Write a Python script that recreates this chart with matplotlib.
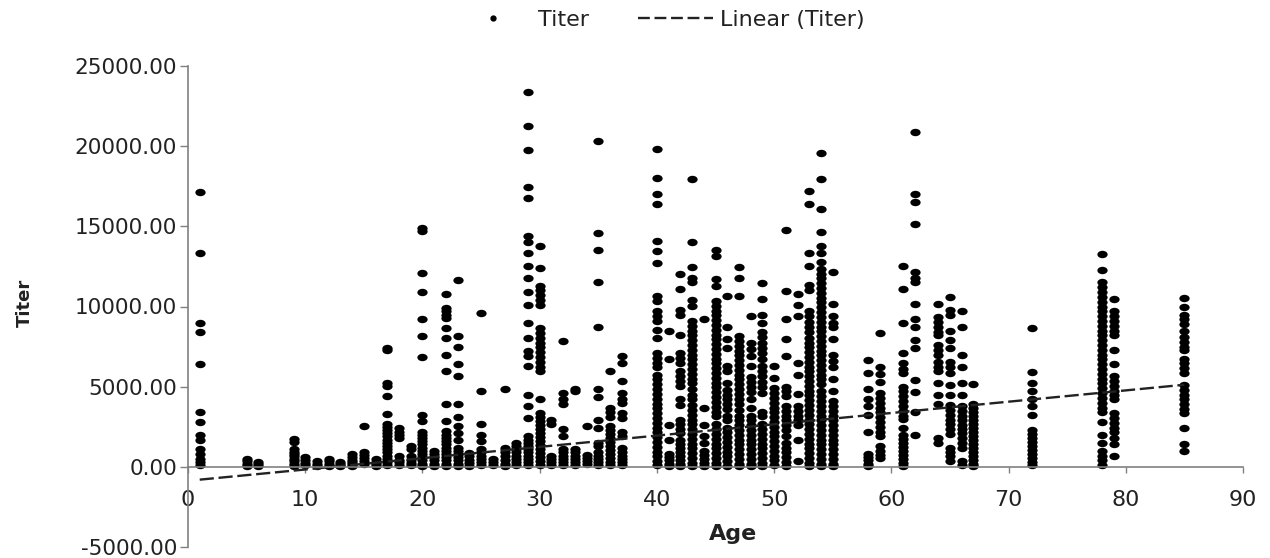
import numpy as np
import matplotlib
matplotlib.use('Agg')
import matplotlib.pyplot as plt
from matplotlib.path import Path
from matplotlib.transforms import Affine2D
from matplotlib.lines import Line2D

# values, one list per age
ages = [1, 5, 6, 9, 10, 11, 12, 13, 14, 15, 16, 17, 18, 19, 20, 21, 22, 23, 24, 25,
        26, 27, 28, 29, 30, 31, 32, 33, 34, 35, 36, 37, 40, 41, 42, 43, 44, 45, 46, 47,
        48, 49, 50, 51, 52, 53, 54, 55, 58, 59, 61, 62, 64, 65, 66, 67, 72, 78, 79, 85]

t01 = [17170, 13340, 9000, 8400, 6400, 3450, 2800, 2000, 1650, 1100, 800, 500, 300, 100]
t05 = [500, 350, 200, 50]
t06 = [300, 150, 50]
t09 = [1750, 1550, 1100, 950, 800, 650, 500, 350, 200, 50]
t10 = [600, 400, 250, 100]
t11 = [350, 200, 50]
t12 = [500, 350, 200, 50]
t13 = [300, 150, 50]
t14 = [800, 600, 450, 300, 150, 50]
t15 = [2530, 950, 750, 550, 350, 150]
t16 = [500, 300, 150, 50]
t17 = [7400, 7300, 5200, 5050, 4400, 3300, 2700, 2500, 2300, 2100, 1900, 1700, 1500, 1300, 1100, 900, 700, 500, 300, 100]
t18 = [2400, 2200, 2000, 1800, 650, 450, 300, 100]
t19 = [1300, 1100, 650, 450, 250, 100]
t20 = [14900, 14700, 12100, 10900, 9200, 8150, 6850, 3250, 2850, 2200, 2000, 1800, 1600, 1400, 1200, 1000, 800, 600, 400, 200, 50]
t21 = [1000, 800, 600, 400, 200, 50]
t22 = [10800, 9900, 9700, 9500, 9300, 8650, 8050, 7000, 5950, 3950, 2850, 2250, 2000, 1800, 1600, 1400, 1200, 1000, 800, 600, 400, 200, 50]
t23 = [11650, 8150, 7500, 6400, 5650, 3950, 3100, 2550, 2100, 1700, 1200, 1000, 800, 600, 400, 200, 50]
t24 = [850, 650, 450, 250, 50]
t25 = [9600, 4700, 2700, 2000, 1600, 1100, 900, 700, 500, 300, 100]
t26 = [500, 300, 100]
t27 = [4850, 1200, 950, 700, 450, 200, 50]
t28 = [1500, 1300, 1100, 900, 700, 500, 300, 100]
t29 = [23400, 21250, 19750, 17450, 16750, 14400, 14000, 13350, 12550, 11750, 10900, 10100, 9000, 8050, 7200, 6900, 6300, 4450, 3800, 3050,
       1900, 1700, 1500, 1300, 1100, 900, 700, 500, 300, 100]
t30 = [13750, 12400, 11250, 11000, 10700, 10400, 10100, 8650, 8350, 8050, 7750, 7450, 7150, 6850, 6550, 6250, 5950, 4250,
       3350, 3100, 2850, 2600, 2350, 2100, 1850, 1600, 1350, 1100, 850, 600, 350, 100]
t31 = [2950, 2650, 700, 500, 300, 100]
t32 = [7850, 4600, 4250, 3950, 2350, 1950, 1100, 900, 700, 500, 300, 100]
t33 = [4850, 4700, 1100, 900, 700, 500, 300, 100]
t34 = [2550, 750, 550, 350, 150]
t35 = [20300, 14600, 13500, 11500, 8750, 4850, 4350, 2950, 2400, 1500, 1300, 900, 700, 500, 300, 100]
t36 = [5950, 3700, 3400, 3100, 2550, 2300, 2050, 1800, 1550, 1300, 1050, 800, 550, 300, 100]
t37 = [6900, 6500, 5350, 4600, 4250, 4000, 3350, 3050, 2200, 1900, 1200, 900, 700, 500, 300, 100]
t40 = [19800, 18000, 17000, 16400, 14100, 13450, 12700, 10650, 10350, 9700, 9400, 9100, 8550, 8050, 7100, 6800, 6500, 6200,
       5750, 5450, 5150, 4850, 4550, 4250, 3950, 3650, 3350, 3050, 2750, 2450, 2150, 1850, 1550, 1250, 950, 650, 350, 100]
t41 = [8500, 6750, 2600, 1650, 800, 600, 400, 200, 50]
t42 = [12000, 11100, 9800, 9500, 8250, 7100, 6800, 6500, 5950, 5650, 5350, 5050, 4200, 3850, 2950, 2650, 2350, 2100,
       1700, 1450, 1200, 950, 700, 450, 200, 50]
t43 = [17950, 14000, 12450, 11800, 11500, 10400, 10050, 9100, 8800, 8500, 8200, 7900, 7600, 7300, 7000, 6700, 6400, 6100, 5800, 5500, 5200,
       4850, 4500, 4200, 3850, 3550, 3250, 2950, 2650, 2350, 2050, 1750, 1450, 1150, 850, 550, 250, 50]
t44 = [9250, 3700, 2600, 1900, 1500, 1000, 750, 500, 250, 50]
t45 = [13550, 13150, 11700, 11300, 10350, 10050, 9750, 9450, 9150, 8850, 8550, 8250, 7950, 7650, 7350, 7050, 6750, 6450, 6150, 5850, 5550,
       5250, 4950, 4650, 4350, 4050, 3750, 3450, 3150, 2650, 2350, 2050, 1750, 1450, 1150, 850, 550, 250, 50]
t46 = [10650, 8700, 8000, 7400, 6300, 5950, 5250, 4800, 4500, 4200, 3900, 3600, 3200, 2900, 2450, 2150, 1850, 1550, 1250, 950, 650, 350, 50]
t47 = [12450, 11750, 10650, 8150, 7850, 7550, 7250, 6950, 6650, 6350, 6050, 5750, 5450, 5150, 4850, 4550, 4250, 3950, 3550,
       3200, 2900, 2600, 2300, 2000, 1700, 1400, 1100, 800, 500, 200, 50]
t48 = [9400, 7750, 7350, 6900, 6300, 5600, 5300, 5000, 4650, 4200, 3700, 3200, 2900, 2600, 2300, 2000, 1700, 1400, 1100, 800, 500, 200, 50]
t49 = [11450, 10450, 9500, 9000, 8400, 8100, 7750, 7400, 7100, 6750, 6300, 6000, 5650, 5300, 4950, 4600, 3400, 3200, 2650, 2350, 2050, 1750, 1450, 1150, 850, 550, 250, 50]
t50 = [6300, 5550, 4900, 4600, 4300, 4000, 3700, 3400, 3100, 2800, 2500, 2200, 1900, 1600, 1300, 1000, 700, 400, 100]
t51 = [14750, 10950, 9250, 8000, 6900, 5000, 4700, 4400, 3800, 3500, 3200, 2900, 2600, 2300, 1950, 1500, 1200, 900, 600, 300, 50]
t52 = [10750, 10100, 9400, 6500, 5700, 4550, 3800, 3500, 3200, 2900, 2600, 1650, 350]
t53 = [17200, 16400, 13350, 12500, 11350, 11000, 9700, 9400, 9050, 8750, 8400, 8050, 7750, 7450, 7150, 6850, 6550, 6250, 5950, 5650, 5350,
       5050, 4750, 4450, 4150, 3850, 3550, 3250, 2950, 2650, 2350, 2050, 1750, 1450, 1150, 850, 550, 250, 50]
t54 = [19550, 17950, 16100, 14650, 13750, 13350, 12800, 12350, 12050, 11750, 11450, 11150, 10850, 10550, 10250, 9950, 9650, 9350, 9050, 8750, 8450,
       8150, 7850, 7550, 7250, 6950, 6650, 6350, 6050, 5750, 5450, 5150, 4700, 4400, 4100, 3800, 3500, 3200, 2900, 2600, 2300, 2000, 1700, 1400, 1100, 800, 500, 200, 50]
t55 = [12150, 10150, 9400, 9000, 8750, 8000, 7000, 6600, 6200, 5500, 4750, 4100, 3800, 3500, 3200, 2900, 2600, 2300, 2000, 1700, 1400, 1100, 800, 500, 200, 50]
t58 = [6650, 5850, 4850, 4200, 3800, 3250, 2150, 800, 600, 400, 200, 50]
t59 = [8350, 6200, 5800, 5300, 4600, 4300, 4000, 3700, 3400, 3100, 2800, 2500, 2200, 1950, 1300, 1000, 750, 550]
t61 = [12500, 11100, 9000, 7100, 6450, 6100, 5850, 5000, 4700, 4400, 4100, 3800, 3500, 3200, 3000, 2400, 2000, 1750, 1500, 1250, 1000, 750, 500, 250, 50]
t62 = [20900, 17000, 16500, 15130, 12150, 11800, 11550, 10150, 9200, 8750, 7900, 7400, 5400, 4650, 3400, 2000]
t64 = [10150, 9350, 9050, 8750, 8400, 8200, 7600, 7300, 7000, 6550, 6250, 6000, 5250, 4500, 3950, 1800, 1500]
t65 = [10600, 9800, 9500, 8450, 7900, 7400, 6550, 6250, 5850, 5100, 4500, 3850, 3550, 3250, 2950, 2650, 2350, 2050, 1150, 900, 650, 350]
t66 = [9700, 8750, 7000, 6250, 5250, 4500, 3800, 3500, 3200, 2900, 2600, 2350, 2100, 1800, 1500, 1150, 350, 100]
t67 = [5150, 3950, 3700, 3450, 3200, 2950, 2700, 2450, 2200, 1950, 1700, 1450, 1200, 950, 700, 450, 200, 50]
t72 = [8650, 5900, 5250, 4700, 4200, 3800, 3250, 2300, 2050, 1800, 1550, 1300, 1050, 800, 550, 300, 100]
t78 = [13300, 12250, 11500, 11200, 10900, 10600, 10300, 10000, 9700, 9400, 9100, 8800, 8500, 8200, 7900, 7600, 7300, 7000, 6700, 6400, 6100,
       5800, 5500, 5200, 4900, 4600, 4300, 4000, 3700, 3400, 2800, 2000, 1500, 1000, 700, 400, 100]
t79 = [10450, 9700, 9400, 9100, 8800, 8500, 8250, 7300, 6400, 5650, 5350, 5050, 4750, 4450, 4200, 3350, 3050, 2750, 2450, 2150, 1800, 1400, 650]
t85 = [10500, 10000, 9500, 9200, 8900, 8450, 8100, 7800, 7500, 7300, 6750, 6450, 6150, 5850, 5100, 4800, 4500, 4200, 3900, 3600, 3350, 2450, 1400, 1000]

titers = [t01, t05, t06, t09, t10, t11, t12, t13, t14, t15, t16, t17, t18, t19, t20, t21, t22, t23, t24, t25,
          t26, t27, t28, t29, t30, t31, t32, t33, t34, t35, t36, t37, t40, t41, t42, t43, t44, t45, t46, t47,
          t48, t49, t50, t51, t52, t53, t54, t55, t58, t59, t61, t62, t64, t65, t66, t67, t72, t78, t79, t85]

# trend line end points
trend_age = [1, 85]
trend_titer = [-800, 5120]

x_ticks = [0, 10, 20, 30, 40, 50, 60, 70, 80, 90]
y_ticks = [-5000, 0, 5000, 10000, 15000, 20000, 25000]

text_col = '#222222'
axis_col = '#808080'

fig = plt.figure(figsize=(12.7, 5.58), dpi=100)
ax = fig.add_axes([188 / 1270, 1 - 547 / 558, 1055 / 1270, 481 / 558])

# points in the reference are stretched sideways
dot = Path.unit_circle().transformed(Affine2D().scale(1, 0.72))

for age, vals in zip(ages, titers):
    ax.plot([age] * len(vals), vals, linestyle='none', marker=dot, markersize=7.4,
            color='black', markeredgewidth=0, clip_on=False)

ax.plot(trend_age, trend_titer, color='#222222', linestyle=(0, (6, 2)), linewidth=1.7)

ax.set_xlim(0, 90)
ax.set_ylim(-5000, 25000)
ax.set_xticks(x_ticks)
ax.set_yticks(y_ticks)
ax.set_yticklabels(['{:.2f}'.format(v) for v in y_ticks])

ax.spines['top'].set_visible(False)
ax.spines['right'].set_visible(False)
ax.spines['bottom'].set_position(('data', 0))
ax.spines['left'].set_color(axis_col)
ax.spines['bottom'].set_color(axis_col)
ax.spines['left'].set_linewidth(1.2)
ax.spines['bottom'].set_linewidth(1.2)

ax.tick_params(axis='x', length=4, width=1, color=axis_col, pad=13, labelsize=16, labelcolor=text_col)
ax.tick_params(axis='y', length=6, width=1, color=axis_col, pad=2, labelsize=15.5, labelcolor=text_col)

ax.set_xlabel('Age', fontsize=16, fontweight='bold', color=text_col, va='center')
ax.xaxis.set_label_coords((733 - 188) / 1055, (547 - 534) / 481)
ax.set_ylabel('Titer', fontsize=13, fontweight='bold', color=text_col, va='center')
ax.yaxis.set_label_coords((25 - 188) / 1055, (547 - 303) / 481)

handles = [Line2D([], [], linestyle='none', marker='o', markersize=3.5, color='black'),
           Line2D([], [], color='#222222', linestyle=(0, (5, 2)), linewidth=1.7)]
fig.legend(handles, ['Titer', 'Linear (Titer)'], ncol=2, frameon=False, fontsize=16,
           labelcolor=text_col, loc='center', bbox_to_anchor=(660 / 1270, 1 - 20 / 558),
           handlelength=3.4, handletextpad=0.3, columnspacing=2.2)

fig.savefig('out.png', dpi=100)
